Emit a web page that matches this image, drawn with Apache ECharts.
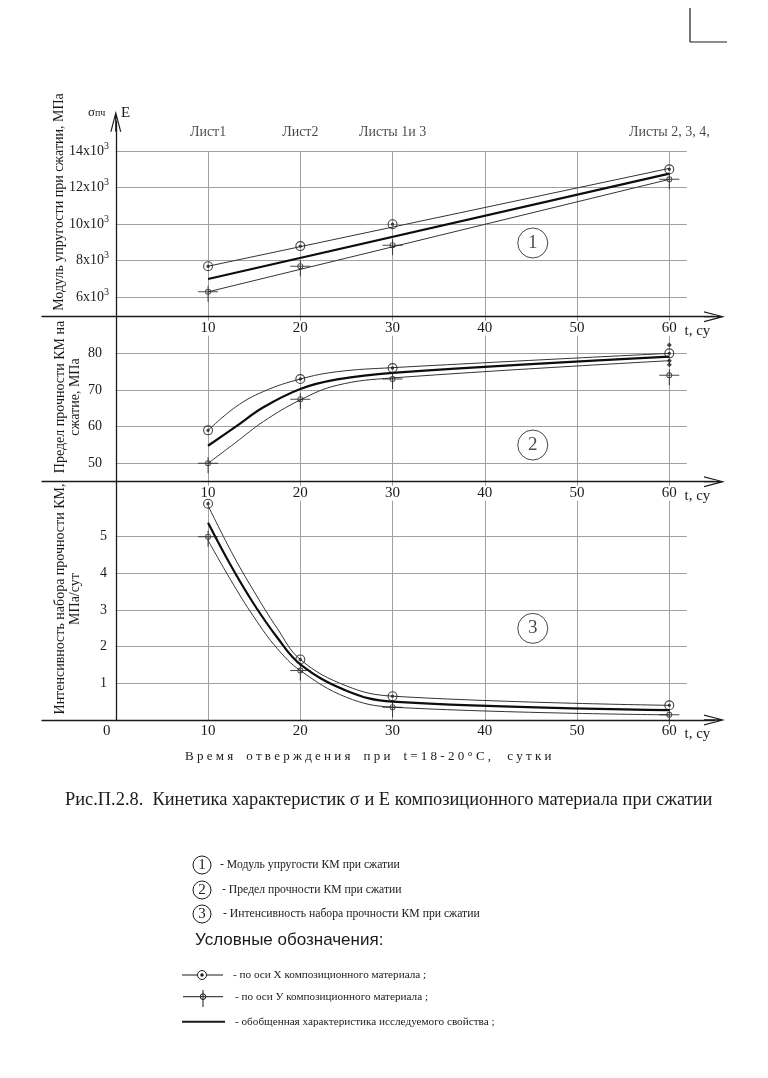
<!DOCTYPE html>
<html><head><meta charset="utf-8">
<script src="https://cdn.jsdelivr.net/npm/echarts@6/dist/echarts.min.js"></script>
<style>html,body{margin:0;padding:0;background:#fff}#c{width:768px;height:1078px}</style>
</head><body><div id="c"></div>
<script>
// ================= DATA =================
const tickDays = [10, 20, 30, 40, 50, 60];
const sheetDays = [10, 20, 30, 60];
const sheetLabels = ['Лист1', 'Лист2', 'Листы 1и 3', 'Листы 2, 3, 4,'];
const pointDays = [10, 20, 30, 60];

// Panel 1 - modulus E, MPa
const E_ticks = [6000, 8000, 10000, 12000, 14000];
const E_axisX = [7700, 8800, 10000, 13000];
const E_axisY = [6300, 7700, 8850, 12450];
const E_lineDays = [10, 60];
const E_upper = [7700, 13050];
const E_mean = [7000, 12760];
const E_lower = [6300, 12450];

// Panel 2 - strength, MPa
const S_ticks = [50, 60, 70, 80];
const S_axisX = [59, 73, 76, 80];
const S_axisY = [50, 67.5, 73, 74];
const S_lineDays = [10, 13, 16, 20, 24, 30, 60];
const S_upper = [59, 65.4, 69.6, 73, 75, 76.1, 80];
const S_mean = [54.8, 60, 65.3, 70.3, 72.9, 74.7, 79.1];
const S_lower = [50, 55.7, 61.4, 67.3, 71.3, 73.3, 78];
const S_extraDays = [60, 60, 60];
const S_extra = [82.3, 78, 76.9];

// Panel 3 - strength gain rate, MPa/day
const R_ticks = [1, 2, 3, 4, 5];
const R_axisX = [5.9, 1.65, 0.65, 0.4];
const R_axisY = [5.0, 1.35, 0.35, 0.14];
const R_lineDays = [10, 12.5, 15, 17.5, 20, 25, 30, 60];
const R_upper = [5.85, 4.6, 3.5, 2.5, 1.65, 0.93, 0.65, 0.4];
const R_mean = [5.38, 4.2, 3.15, 2.25, 1.52, 0.8, 0.5, 0.27];
const R_lower = [4.9, 3.8, 2.8, 1.95, 1.35, 0.62, 0.35, 0.14];

const tagLabels = ['1', '2', '3'];
const tagDay = 45.2;
const tagValues = [8970, 55, 2.5];

// ================= STYLE =================
const SERIF = '"Liberation Serif", "Times New Roman", serif';
const SANS = '"Liberation Sans", Arial, sans-serif';
const INK = '#1a1a1a';
const GRIDC = '#a0a0a0';
const ARROW = 'path://M0,0L5.5,21L4.3,21L0.65,7.06L0.65,21L-0.65,21L-0.65,7.06L-4.3,21L-5.5,21Z';
const SYM_X = 'path://M0,-5A5,5,0,1,1,0,5A5,5,0,1,1,0,-5ZM0,-3.9A3.9,3.9,0,1,0,0,3.9A3.9,3.9,0,1,0,0,-3.9ZM0,-1.7A1.7,1.7,0,1,1,0,1.7A1.7,1.7,0,1,1,0,-1.7Z';
const SYM_Y = 'path://M0,-3A3,3,0,1,1,0,3A3,3,0,1,1,0,-3ZM0,-2.1A2.1,2.1,0,1,0,0,2.1A2.1,2.1,0,1,0,0,-2.1ZM-10,-0.5L10,-0.5L10,0.5L-10,0.5ZM-0.5,-6L0.5,-6L0.5,10L-0.5,10Z';

const zip = (xs, ys) => xs.map((x, i) => [x, ys[i]]);

const panels = [
  {top: 121.2, height: 195.5, min: 4940, max: 15630, step: 2000, ticks: E_ticks, boxTop: 14000, margin: -67, arrow: true,
   up: zip(E_lineDays, E_upper), mean: zip(E_lineDays, E_mean), low: zip(E_lineDays, E_lower),
   px: zip(pointDays, E_axisX), py: zip(pointDays, E_axisY), smooth: false},
  {top: 316.7, height: 165, min: 45, max: 90, step: 10, ticks: S_ticks, boxTop: 90, margin: -60, arrow: false,
   up: zip(S_lineDays, S_upper), mean: zip(S_lineDays, S_mean), low: zip(S_lineDays, S_lower),
   px: zip(pointDays, S_axisX), py: zip(pointDays, S_axisY), smooth: 0.4},
  {top: 481.7, height: 238.3, min: 0, max: 6.5, step: 1, ticks: R_ticks, boxTop: 6.5, margin: -65, arrow: false,
   up: zip(R_lineDays, R_upper), mean: zip(R_lineDays, R_mean), low: zip(R_lineDays, R_lower),
   px: zip(pointDays, R_axisX), py: zip(pointDays, R_axisY), smooth: 0.4}
];

const grids = [], xAxes = [], yAxes = [], series = [];
panels.forEach((p, i) => {
  grids.push({left: 42, right: 53.5, top: p.top, height: p.height, outerBoundsMode: 'none', containLabel: false});
  xAxes.push({
    gridIndex: i, type: 'value', min: -8, max: 64.9, minInterval: 10, maxInterval: 10, z: 4,
    axisLine: {show: true, onZero: false, lineStyle: {color: INK, width: 1.3}, symbol: ['none', ARROW], symbolSize: [11, 21]},
    axisTick: {show: false}, splitLine: {show: false},
    axisLabel: {
      margin: 4, fontFamily: SERIF, fontSize: 15, color: INK, backgroundColor: '#fff', padding: [0, 1],
      formatter: v => {
        const r = Math.round(v * 100) / 100;
        if (tickDays.includes(r)) return String(r);
        if (i === 2 && r === 0) return '{o|0}';
        return '';
      },
      rich: {o: {fontFamily: SERIF, fontSize: 15, color: INK, padding: [0, 18, 0, 0]}}
    },
    name: 't, су', nameLocation: 'end', nameGap: -30, nameMoveOverlap: false,
    nameTextStyle: {fontFamily: SERIF, fontSize: 15, color: INK, align: 'left', verticalAlign: 'top', padding: [7, 0, 0, 0]}
  });
  yAxes.push({
    gridIndex: i, type: 'value', min: p.min, max: p.max, minInterval: p.step, maxInterval: p.step, z: 4,
    axisLine: {show: true, onZero: true, lineStyle: {color: INK, width: 1.3},
      symbol: p.arrow ? ['none', ARROW] : 'none', symbolSize: [11, 21]},
    axisTick: {show: false}, splitLine: {show: false},
    axisLabel: {
      margin: p.margin, fontFamily: SERIF, fontSize: 14, color: INK,
      formatter: v => {
        const r = Math.round(v * 1000) / 1000;
        if (!p.ticks.includes(r)) return '';
        return i === 0 ? `{m|${r / 1000}x10}{s|3}` : String(r);
      },
      rich: {
        m: {fontFamily: SERIF, fontSize: 14, color: INK},
        s: {fontFamily: SERIF, fontSize: 10, color: INK, verticalAlign: 'top', padding: [0, 0, 10, 0]}
      }
    }
  });
  // grid lines
  const vLines = tickDays.map(d => [{coord: [d, p.min]}, {coord: [d, p.boxTop]}]);
  const hLines = p.ticks.map(v => [{coord: [0, v]}, {coord: [61.9, v]}]);
  series.push({
    type: 'line', xAxisIndex: i, yAxisIndex: i, data: [], silent: true, z: 1,
    markLine: {silent: true, z: 1, symbol: ['none', 'none'], label: {show: false}, animation: false,
      emphasis: {disabled: true}, lineStyle: {color: GRIDC, width: 1, type: 'solid'},
      data: vLines.concat(hLines)}
  });
  const lineBase = {type: 'line', xAxisIndex: i, yAxisIndex: i, symbol: 'none', silent: true, z: 3, smooth: p.smooth};
  series.push(Object.assign({}, lineBase, {name: 'upper', data: p.up, lineStyle: {color: '#333', width: 1}}));
  series.push(Object.assign({}, lineBase, {name: 'lower', data: p.low, lineStyle: {color: '#333', width: 1}}));
  series.push(Object.assign({}, lineBase, {name: 'mean', data: p.mean, lineStyle: {color: '#0d0d0d', width: 2.2}}));
  series.push({type: 'scatter', xAxisIndex: i, yAxisIndex: i, data: p.px, symbol: SYM_X, symbolSize: 10,
    itemStyle: {color: INK}, silent: true, z: 6});
  series.push({type: 'scatter', xAxisIndex: i, yAxisIndex: i, data: p.py, symbol: SYM_Y, symbolSize: [20, 16],
    symbolOffset: [0, 2], itemStyle: {color: INK}, silent: true, z: 6});
  series.push({type: 'scatter', xAxisIndex: i, yAxisIndex: i, data: [[tagDay, tagValues[i]]], symbol: 'circle',
    symbolSize: 30, itemStyle: {color: '#fff', borderColor: INK, borderWidth: 1}, silent: true, z: 5,
    label: {show: true, position: 'inside', formatter: tagLabels[i], fontFamily: SERIF, fontSize: 19, color: INK}});
});
// sheet labels above panel 1
series.push({type: 'scatter', xAxisIndex: 0, yAxisIndex: 0, data: sheetDays.map(d => [d, 15000]),
  symbolSize: 1, itemStyle: {color: 'rgba(0,0,0,0)'}, silent: true, z: 5,
  label: {show: true, position: 'inside', fontFamily: SERIF, fontSize: 14, color: INK,
    formatter: prm => sheetLabels[prm.dataIndex]}});
// extra marks at 60 days in panel 2
series.push({type: 'scatter', xAxisIndex: 1, yAxisIndex: 1, data: zip(S_extraDays, S_extra),
  symbol: 'diamond', symbolSize: 5, itemStyle: {color: INK}, silent: true, z: 6});

// ================= GRAPHIC (titles, caption, legend) =================
const txt = (x, y, text, font, extra) => Object.assign({type: 'text', x, y, silent: true,
  style: Object.assign({text, font, fill: INK, align: 'left', verticalAlign: 'middle'}, extra || {})});
const graphic = [
  {type: 'line', silent: true, shape: {x1: 690, y1: 8, x2: 690, y2: 42}, style: {stroke: INK, lineWidth: 1.2}},
  {type: 'line', silent: true, shape: {x1: 690, y1: 42, x2: 727, y2: 42}, style: {stroke: INK, lineWidth: 1.2}},
  {type: 'text', x: 88, y: 113, silent: true, style: {text: '{a|σ}{b|пч}', verticalAlign: 'middle', align: 'left',
    rich: {a: {fontFamily: SERIF, fontSize: 13, fill: INK}, b: {fontFamily: SERIF, fontSize: 10, fill: INK}}}},
  txt(121, 113, 'E', '15px ' + SERIF),
  Object.assign(txt(59, 202, 'Модуль упругости при сжатии, МПа', '14px ' + SERIF, {align: 'center'}), {rotation: Math.PI / 2}),
  Object.assign(txt(67.5, 397, 'Предел прочности КМ на\nсжатие, МПа', '14px ' + SERIF, {align: 'center', lineHeight: 15}), {rotation: Math.PI / 2}),
  Object.assign(txt(67.5, 599, 'Интенсивность набора прочности КМ,\nМПа/сут', '14px ' + SERIF, {align: 'center', lineHeight: 15}), {rotation: Math.PI / 2}),
  txt(185, 757, 'В р е м я    о т в е р ж д е н и я    п р и    t = 1 8 - 2 0 ° С ,     с у т к и', '13px ' + SERIF),
  txt(65, 800, 'Рис.П.2.8.  Кинетика характеристик σ и Е композиционного материала при сжатии', '18.4px ' + SERIF),
  // numbered legend
  {type: 'circle', silent: true, shape: {cx: 202, cy: 865, r: 9}, style: {fill: 'none', stroke: INK, lineWidth: 1}},
  txt(202, 865, '1', '15px ' + SERIF, {align: 'center'}),
  txt(220, 865, '- Модуль упругости КМ при сжатии', '11.7px ' + SERIF),
  {type: 'circle', silent: true, shape: {cx: 202, cy: 890, r: 9}, style: {fill: 'none', stroke: INK, lineWidth: 1}},
  txt(202, 890, '2', '15px ' + SERIF, {align: 'center'}),
  txt(222, 890, '- Предел прочности КМ при сжатии', '11.7px ' + SERIF),
  {type: 'circle', silent: true, shape: {cx: 202, cy: 914, r: 9}, style: {fill: 'none', stroke: INK, lineWidth: 1}},
  txt(202, 914, '3', '15px ' + SERIF, {align: 'center'}),
  txt(223, 914, '- Интенсивность набора прочности КМ при сжатии', '11.7px ' + SERIF),
  txt(195, 940, 'Условные обозначения:', '17px ' + SANS),
  // symbol legend
  {type: 'line', silent: true, shape: {x1: 182, y1: 975, x2: 223, y2: 975}, style: {stroke: INK, lineWidth: 1}},
  {type: 'circle', silent: true, shape: {cx: 202, cy: 975, r: 4.5}, style: {fill: '#fff', stroke: INK, lineWidth: 1}},
  {type: 'circle', silent: true, shape: {cx: 202, cy: 975, r: 1.7}, style: {fill: INK}},
  txt(233, 975, '- по оси Х композиционного материала ;', '11.2px ' + SERIF),
  {type: 'line', silent: true, shape: {x1: 183, y1: 996.7, x2: 223, y2: 996.7}, style: {stroke: INK, lineWidth: 1}},
  {type: 'line', silent: true, shape: {x1: 203, y1: 990, x2: 203, y2: 1007}, style: {stroke: INK, lineWidth: 1}},
  {type: 'circle', silent: true, shape: {cx: 203, cy: 996.7, r: 2.8}, style: {fill: 'none', stroke: INK, lineWidth: 1}},
  txt(235, 996.7, '- по оси У композиционного материала ;', '11.2px ' + SERIF),
  {type: 'line', silent: true, shape: {x1: 182, y1: 1021.7, x2: 225, y2: 1021.7}, style: {stroke: INK, lineWidth: 2}},
  txt(235, 1021.7, '- обобщенная характеристика исследуемого свойства ;', '11.2px ' + SERIF)
];

const chart = echarts.init(document.getElementById('c'), null, {renderer: 'canvas'});
chart.setOption({
  backgroundColor: '#fff',
  animation: false,
  grid: grids, xAxis: xAxes, yAxis: yAxes, series,
  graphic: {elements: graphic}
});
</script></body></html>
